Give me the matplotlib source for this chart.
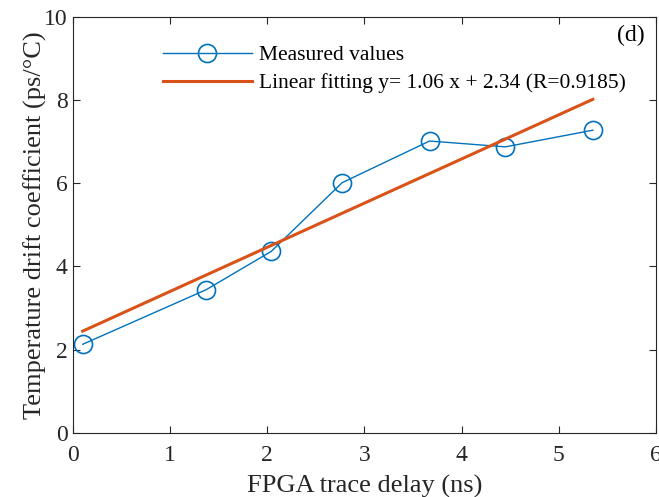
import matplotlib.pyplot as plt
import numpy as np

# FPGA trace delay (ns) and measured temperature drift coefficient (ps/C)
delay_ns = [0.10, 1.37, 2.04, 2.77, 3.67, 4.45, 5.35]
drift_ps = [2.13, 3.44, 4.36, 6.01, 7.01, 6.87, 7.27]

slope = 1.06
intercept = 2.34
fit_label = 'Linear fitting y= 1.06 x + 2.34 (R=0.9185)'

plt.rcParams['font.family'] = ['Liberation Serif', 'DejaVu Serif']
axis_color = '#262626'

fig = plt.figure(figsize=(6.59, 4.97), dpi=100)
ax = fig.add_axes([0.1108, 0.1288, 0.8846, 0.838])

x = np.array(delay_ns)
ax.plot(x, drift_ps, '-o', color='#0072BD', lw=1.0, ms=13, mfc='none',
        mew=1.2, label='Measured values')
ax.plot(x[[0, -1]], slope * x[[0, -1]] + intercept, color='#D95319', lw=2.2,
        label=fit_label)

ax.set_xlim(0, 6)
ax.set_ylim(0, 10)
ax.set_xticks(range(0, 7))
ax.set_yticks(range(0, 11, 2))
ax.tick_params(direction='in', top=True, right=True, length=5, width=0.8,
               labelsize=17, colors=axis_color)
ax.tick_params(axis='x', pad=9)
ax.tick_params(axis='y', pad=4)
for s in ax.spines.values():
    s.set_color(axis_color)
    s.set_linewidth(0.8)

ax.set_xlabel('FPGA trace delay (ns)', fontsize=19, color=axis_color, labelpad=6)
ax.set_ylabel('Temperature drift coefficient (ps/\u00b0C)', fontsize=19,
              color=axis_color, labelpad=-2)

leg = ax.legend(loc='upper left', bbox_to_anchor=(0.14, 0.952), frameon=False,
                fontsize=15.5, handlelength=4.1, handletextpad=0.33,
                labelspacing=0.37, borderaxespad=0)
for t in leg.get_texts():
    t.set_color('black')

ax.text(0.981, 0.98, '(d)', transform=ax.transAxes, ha='right', va='top',
        fontsize=17, color='black')

fig.savefig('out.png', dpi=100)
